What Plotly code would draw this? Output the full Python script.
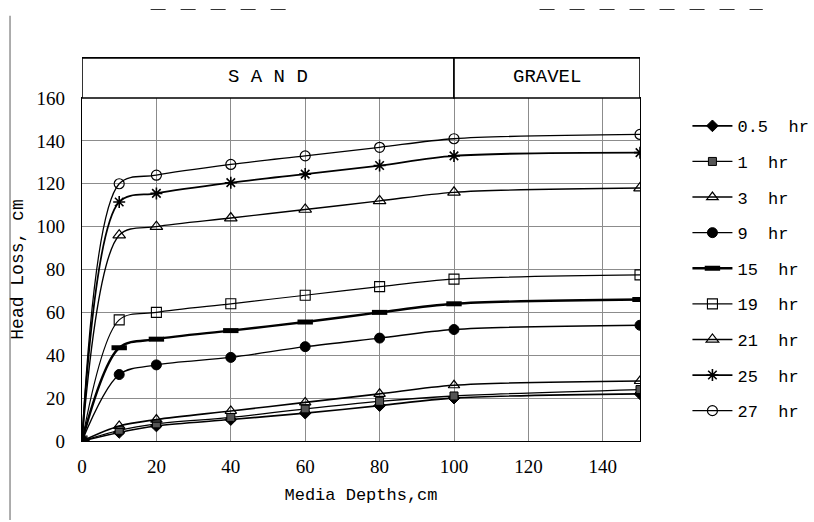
import plotly.graph_objects as go

# Media depth (cm) at each sampling point
depths = [0, 10, 20, 40, 60, 80, 100, 150]

# Head loss (cm) per filter run time
hl_05hr = [0, 4, 7, 10, 13, 16.5, 20, 22]
hl_1hr = [0, 5, 8, 11, 15, 18.5, 21, 24]
hl_3hr = [0, 7, 10, 14, 18, 22, 26, 28]
hl_9hr = [0, 31, 35.5, 39, 44, 48, 52, 54]
hl_15hr = [0, 43.5, 47.5, 51.5, 55.5, 60, 64, 66]
hl_19hr = [0, 56.5, 60, 64, 68, 72, 75.5, 77.5]
hl_21hr = [0, 96, 100, 104, 108, 112, 116, 118]
hl_25hr = [0, 111.5, 115.5, 120.5, 124.5, 128.5, 133, 134.5]
hl_27hr = [0, 120, 124, 129, 133, 137, 141, 143]

run_labels = ["0.5 hr", "1 hr", "3 hr", "9 hr", "15 hr", "19 hr", "21 hr", "25 hr", "27 hr"]
x_ticks = [0, 20, 40, 60, 80, 100, 120, 140]
y_ticks = [0, 20, 40, 60, 80, 100, 120, 140, 160]
zones = ["S A N D", "GRAVEL"]
zone_bounds = [0, 100, 150]

MONO = "Liberation Mono, DejaVu Sans Mono, monospace"
SERIF = "Liberation Serif, DejaVu Serif, serif"

series = [hl_05hr, hl_1hr, hl_3hr, hl_9hr, hl_15hr, hl_19hr, hl_21hr, hl_25hr, hl_27hr]
styles = [
    dict(symbol="diamond", size=9, color="black", lw=1.6, mline=1),
    dict(symbol="square", size=8, color="#555555", lw=1.3, mline=1),
    dict(symbol="triangle-up-open", size=10, color="black", lw=1.6, mline=1.2),
    dict(symbol="circle", size=10, color="black", lw=1.4, mline=1),
    dict(symbol="line-ew", size=11, color="black", lw=2.4, mline=5),
    dict(symbol="square-open", size=10, color="black", lw=1.2, mline=1.1),
    dict(symbol="triangle-up-open", size=11, color="black", lw=1.4, mline=1.2),
    dict(symbol="asterisk-open", size=10, color="black", lw=1.8, mline=1.6),
    dict(symbol="circle-open", size=10, color="black", lw=1.3, mline=1.2),
]

fig = go.Figure()
for name, vals, st in zip(run_labels, series, styles):
    fig.add_trace(go.Scatter(
        x=depths, y=vals, name=name.replace(" ", "&nbsp;&nbsp;"), legendgroup=name,
        mode="lines+markers",
        line=dict(color="black", width=st["lw"], shape="spline", smoothing=0.9),
        marker=dict(symbol=st["symbol"], size=st["size"], color=st["color"],
                    line=dict(color="black", width=st["mline"])),
    ))

# Layer labels boxed above the plot area
for i, label in enumerate(zones):
    fig.add_shape(type="rect", xref="x", yref="paper",
                  x0=zone_bounds[i], x1=zone_bounds[i + 1], y0=1.0, y1=1.117,
                  line=dict(color="black", width=1.6), fillcolor="white")
    fig.add_annotation(x=(zone_bounds[i] + zone_bounds[i + 1]) / 2, xref="x",
                       y=1.062, yref="paper", yanchor="middle", xanchor="center",
                       text=label, showarrow=False,
                       font=dict(family=MONO, size=19, color="black"))

# Page frame fragments
fig.add_shape(type="line", xref="paper", yref="paper", x0=-0.129, x1=-0.129,
              y0=-0.23, y1=1.24, line=dict(color="#777777", width=1.2))
fig.add_shape(type="line", xref="paper", yref="paper", x0=0.123, x1=0.37,
              y0=1.258, y1=1.258, line=dict(color="#333333", width=1.2, dash="longdash"))
fig.add_shape(type="line", xref="paper", yref="paper", x0=0.82, x1=1.22,
              y0=1.258, y1=1.258, line=dict(color="#333333", width=1.2, dash="longdash"))

fig.update_layout(
    width=814, height=522,
    margin=dict(l=82, r=174, t=98, b=81, autoexpand=False),
    paper_bgcolor="white", plot_bgcolor="white",
    font=dict(family=MONO, size=17, color="black"),
    showlegend=True,
    legend=dict(x=1.085, y=0.97, xanchor="left", yanchor="top",
                font=dict(family=MONO, size=17, color="black"),
                itemwidth=40, tracegroupgap=10.5, bgcolor="rgba(0,0,0,0)"),
    xaxis=dict(range=[0, 150], tickvals=x_ticks, ticks="", showline=True,
               linecolor="black", linewidth=1.2, mirror=True,
               showgrid=True, gridcolor="#8c8c8c", gridwidth=1, zeroline=False,
               tickfont=dict(family=SERIF, size=19), ticklabelstandoff=8,
               title=dict(text="Media Depths,cm", font=dict(family=MONO, size=17), standoff=12)),
    yaxis=dict(range=[0, 160], tickvals=y_ticks, ticks="", showline=True,
               linecolor="black", linewidth=1.2, mirror=True,
               showgrid=True, gridcolor="#8c8c8c", gridwidth=1, zeroline=False,
               tickfont=dict(family=SERIF, size=19), ticklabelstandoff=12,
               title=dict(text="Head Loss, cm", font=dict(family=MONO, size=18), standoff=8)),
)

fig.write_html("out.html")
